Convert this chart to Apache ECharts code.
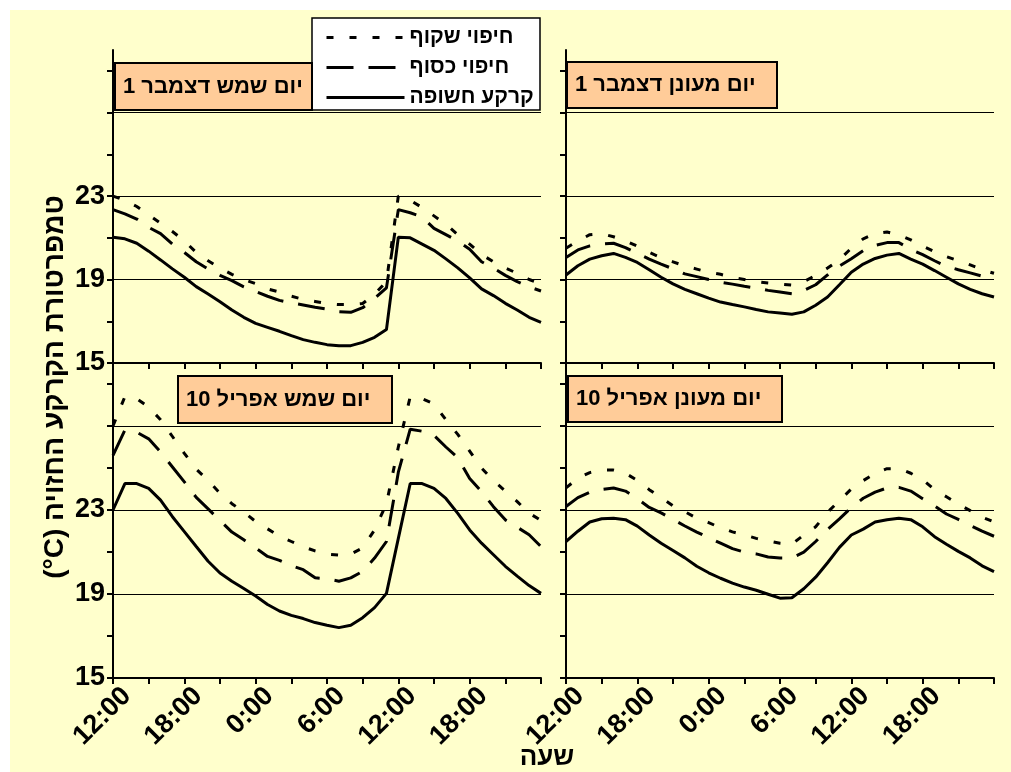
<!DOCTYPE html>
<html>
<head>
<meta charset="utf-8">
<script src="https://cdn.jsdelivr.net/npm/echarts@6/dist/echarts.min.js"></script>
<style>
  html, body { margin: 0; padding: 0; background: #fff; }
  #chart { width: 1011px; height: 772px; }
</style>
</head>
<body>
<div id="chart"></div>
<script>
// Hours elapsed since 12:00 on the first day (hourly readings over 36 h)
const hours = [0, 1, 2, 3, 4, 5, 6, 7, 8, 9, 10, 11, 12, 13, 14, 15, 16, 17, 18,
  19, 20, 21, 22, 23, 24, 25, 26, 27, 28, 29, 30, 31, 32, 33, 34, 35, 36];

const seriesNames = ['חיפוי שקוף', 'חיפוי כסוף', 'קרקע חשופה'];
const panelTitles = ['יום שמש דצמבר 1', 'יום מעונן דצמבר 1', 'יום שמש אפריל 10', 'יום מעונן אפריל 10'];
const yAxisTitle = '(°C) טמפרטורת הקרקע החזויה';
const xAxisTitle = 'שעה';

const yTickValues = [15, 17, 19, 21, 23, 25, 27, 29];
const yLabelValues = [15, 19, 23];
const gridValues = [19, 23, 27];

// Sunny day, 1 December
const decSunClear = [23.0, 22.8, 22.5, 22.1, 21.7, 21.3, 20.85, 20.3, 19.9, 19.55, 19.25, 19.0, 18.8,
  18.55, 18.4, 18.2, 18.05, 17.95, 17.85, 17.8, 17.8, 17.85, 18.3, 18.9, 23.0, 22.8, 22.45, 22.05,
  21.65, 21.15, 20.7, 20.2, 19.85, 19.55, 19.3, 19.0, 18.8];
const decSunSilver = [22.35, 22.15, 21.9, 21.5, 21.2, 20.7, 20.3, 19.85, 19.5, 19.2, 18.95, 18.65, 18.42,
  18.2, 18.0, 17.88, 17.78, 17.67, 17.58, 17.46, 17.43, 17.65, 18.1, 18.6, 22.35, 22.2, 22.0, 21.45,
  21.15, 20.85, 20.45, 19.85, 19.55, 19.2, 18.9, 18.65, 18.45];
const decSunBare = [21.03, 20.95, 20.74, 20.36, 19.94, 19.51, 19.11, 18.66, 18.31, 17.94, 17.54, 17.19, 16.9,
  16.71, 16.52, 16.31, 16.12, 15.99, 15.88, 15.83, 15.83, 15.99, 16.23, 16.6, 21.03, 21.0, 20.7, 20.4,
  19.99, 19.56, 19.08, 18.55, 18.23, 17.86, 17.54, 17.19, 16.95];

// Cloudy day, 1 December
const decCloudClear = [20.5, 20.85, 21.15, 21.2, 21.05, 20.85, 20.6, 20.3, 20.05, 19.85, 19.65, 19.5, 19.35,
  19.25, 19.1, 19.0, 18.9, 18.83, 18.78, 18.73, 18.9, 19.2, 19.55, 19.95, 20.5, 20.95, 21.2, 21.28,
  21.15, 20.9, 20.6, 20.33, 20.1, 19.9, 19.7, 19.47, 19.3];
const decCloudSilver = [20.06, 20.42, 20.61, 20.7, 20.74, 20.53, 20.26, 19.98, 19.74, 19.51, 19.27, 19.14, 19.0,
  18.87, 18.78, 18.68, 18.59, 18.48, 18.4, 18.32, 18.48, 18.75, 19.22, 19.65, 20.0, 20.38, 20.64, 20.77,
  20.77, 20.45, 20.19, 19.9, 19.63, 19.47, 19.32, 19.16, 19.0];
const decCloudBare = [19.22, 19.66, 19.98, 20.14, 20.25, 20.06, 19.82, 19.47, 19.11, 18.79, 18.53, 18.32, 18.11,
  17.92, 17.8, 17.69, 17.56, 17.45, 17.4, 17.34, 17.45, 17.77, 18.16, 18.75, 19.35, 19.74, 20.01, 20.17,
  20.25, 19.98, 19.74, 19.43, 19.11, 18.79, 18.53, 18.32, 18.16];

// Sunny day, 10 April
const aprSunClear = [27.0, 28.4, 28.3, 27.9, 27.3, 26.5, 25.7, 24.95, 24.4, 23.8, 23.3, 22.9, 22.45,
  22.1, 21.75, 21.5, 21.25, 21.05, 20.9, 20.85, 20.9, 21.2, 22.05, 23.3, 26.0, 28.4, 28.3, 28.05,
  27.3, 26.6, 25.8, 25.0, 24.4, 23.9, 23.4, 22.85, 22.5];
const aprSunSilver = [25.6, 26.8, 26.7, 26.39, 25.76, 25.05, 24.34, 23.6, 23.05, 22.5, 21.95, 21.58, 21.19,
  20.79, 20.6, 20.35, 20.16, 19.77, 19.72, 19.61, 19.77, 20.08, 20.71, 21.5, 24.8, 26.85, 26.75, 26.55,
  26.0, 25.49, 24.5, 23.87, 23.16, 22.53, 22.18, 21.82, 21.26];
const aprSunBare = [23.0, 24.26, 24.26, 24.03, 23.47, 22.68, 21.97, 21.26, 20.56, 20.0, 19.61, 19.26, 18.9,
  18.5, 18.19, 17.98, 17.83, 17.64, 17.51, 17.4, 17.51, 17.87, 18.35, 19.03, 21.65, 24.26, 24.26, 24.03,
  23.55, 22.84, 22.05, 21.42, 20.87, 20.32, 19.85, 19.4, 19.03];

// Cloudy day, 10 April
const aprCloudClear = [24.05, 24.52, 24.78, 24.9, 24.9, 24.75, 24.41, 23.97, 23.59, 23.2, 22.92, 22.61, 22.4,
  22.15, 21.96, 21.81, 21.65, 21.53, 21.42, 21.37, 21.81, 22.2, 22.89, 23.45, 24.0, 24.4, 24.75, 24.97,
  24.97, 24.75, 24.44, 23.97, 23.63, 23.28, 22.97, 22.66, 22.43];
const aprCloudSilver = [23.17, 23.59, 23.85, 23.98, 24.05, 23.9, 23.54, 23.12, 22.86, 22.55, 22.24, 21.95, 21.68,
  21.42, 21.16, 20.99, 20.91, 20.76, 20.72, 20.72, 20.99, 21.5, 22.07, 22.58, 23.12, 23.56, 23.85, 24.05,
  24.08, 23.9, 23.54, 23.2, 22.81, 22.55, 22.27, 21.99, 21.75];
const aprCloudBare = [21.5, 21.99, 22.43, 22.58, 22.61, 22.54, 22.23, 21.81, 21.42, 21.07, 20.72, 20.32, 20.01,
  19.75, 19.52, 19.33, 19.18, 18.99, 18.8, 18.82, 19.25, 19.8, 20.49, 21.22, 21.81, 22.09, 22.43, 22.54,
  22.61, 22.54, 22.2, 21.73, 21.37, 21.03, 20.72, 20.34, 20.07];

const panels = [
  [decSunClear, decSunSilver, decSunBare],
  [decCloudClear, decCloudSilver, decCloudBare],
  [aprSunClear, aprSunSilver, aprSunBare],
  [aprCloudClear, aprCloudSilver, aprCloudBare]
];

// ---- layout and styling ----
const FONT = '"Liberation Sans", Arial, "DejaVu Sans", sans-serif';
const gridBoxes = [
  { left: 113, top: 50, width: 428, height: 313 },
  { left: 566, top: 50, width: 428, height: 313 },
  { left: 113, top: 363, width: 428, height: 315 },
  { left: 566, top: 363, width: 428, height: 315 }
];
const titleBoxes = [
  { x: 115, y: 63, w: 197, h: 47 },
  { x: 567, y: 62, w: 210, h: 46 },
  { x: 178, y: 376, w: 214, h: 47 },
  { x: 568, y: 376, w: 214, h: 46 }
];
const lineTypes = [[7, 16], [27, 15], 'solid'];

function hourLabel(v) {
  if (v % 6 !== 0 || v >= 36) return '';
  return ((12 + v) % 24) + ':00';
}

const grid = gridBoxes.map(g => Object.assign({ containLabel: false }, g));

const xAxis = gridBoxes.map((g, i) => ({
  gridIndex: i,
  type: 'value',
  min: 0, max: 36, interval: 3,
  axisLine: { show: true, onZero: false, lineStyle: { color: '#000', width: 2 } },
  axisTick: { show: true, length: 6, lineStyle: { color: '#000', width: 2 } },
  axisLabel: {
    show: i >= 2, rotate: 45, margin: 0, formatter: hourLabel,
    align: 'right', verticalAlign: 'top', padding: [6, 0, 0, 0], lineHeight: 27,
    color: '#000', fontSize: 27, fontWeight: 'bold', fontFamily: FONT,
    showMinLabel: true, showMaxLabel: true
  },
  splitLine: { show: false }
}));

const yAxis = gridBoxes.map((g, i) => ({
  gridIndex: i,
  type: 'value',
  min: 15, max: 30, interval: 1,
  axisLine: { show: true, onZero: false, lineStyle: { color: '#000', width: 2 } },
  axisTick: { show: true, length: 6, customValues: yTickValues, lineStyle: { color: '#000', width: 2 } },
  axisLabel: {
    show: i % 2 === 0, customValues: yLabelValues, margin: 8,
    color: '#000', fontSize: 27, fontWeight: 'bold', fontFamily: FONT
  },
  splitLine: { show: false }
}));

const series = [];
panels.forEach((sets, p) => {
  sets.forEach((values, k) => {
    const s = {
      name: seriesNames[k],
      type: 'line',
      xAxisIndex: p, yAxisIndex: p,
      data: hours.map((h, j) => [h, values[j]]),
      symbol: 'none', showSymbol: false,
      lineStyle: { color: '#000', width: 3, type: lineTypes[k] },
      itemStyle: { color: '#000' },
      z: 3,
      animation: false
    };
    if (k === 2) {
      s.markLine = {
        silent: true, symbol: ['none', 'none'], animation: false,
        label: { show: false },
        lineStyle: { color: '#000', width: 1, type: 'solid' },
        data: gridValues.map(v => ({ yAxis: v }))
      };
    }
    series.push(s);
  });
});

const graphics = [
  // white page margin at the top and left edges
  { type: 'rect', shape: { x: 0, y: 0, width: 1011, height: 10 }, style: { fill: '#fff' }, z: 1 },
  { type: 'rect', shape: { x: 0, y: 0, width: 10, height: 772 }, style: { fill: '#fff' }, z: 1 },
  // legend frame
  { type: 'rect', shape: { x: 312, y: 18, width: 228, height: 92 },
    style: { fill: '#fff', stroke: '#000', lineWidth: 1.5 }, z: 20 },
  // axis titles
  { type: 'text', x: 55, y: 387, rotation: Math.PI / 2, z: 20,
    style: { text: yAxisTitle, font: 'bold 28px ' + FONT, fill: '#000',
      textAlign: 'center', textVerticalAlign: 'middle', verticalAlign: 'middle' } },
  { type: 'text', x: 547, y: 758, z: 20,
    style: { text: xAxisTitle, font: 'bold 26px ' + FONT, fill: '#000',
      textAlign: 'center', textVerticalAlign: 'middle', verticalAlign: 'middle' } }
];
titleBoxes.forEach((b, i) => {
  graphics.push({ type: 'rect', shape: { x: b.x, y: b.y, width: b.w, height: b.h },
    style: { fill: '#FFCC99', stroke: '#000', lineWidth: 2 }, z: 20 });
  graphics.push({ type: 'text', x: b.x + 8, y: b.y + b.h / 2, z: 21,
    style: { text: panelTitles[i], font: 'bold 22px ' + FONT, fill: '#000',
      textAlign: 'left', textVerticalAlign: 'middle', verticalAlign: 'middle' } });
});

const option = {
  backgroundColor: '#FFFFCC',
  animation: false,
  grid, xAxis, yAxis, series,
  legend: {
    data: seriesNames,
    orient: 'vertical',
    left: 320, top: 22,
    itemWidth: 78, itemHeight: 18, itemGap: 9,
    selectedMode: false,
    z: 30,
    lineStyle: { width: 3 },
    itemStyle: { color: 'rgba(0,0,0,0)', borderWidth: 0, opacity: 0 },
    textStyle: { color: '#000', fontSize: 21, fontWeight: 'bold', fontFamily: FONT, lineHeight: 18 }
  },
  graphic: { elements: graphics }
};

const chart = echarts.init(document.getElementById('chart'), null, { renderer: 'canvas' });
chart.setOption(option);
</script>
</body>
</html>
